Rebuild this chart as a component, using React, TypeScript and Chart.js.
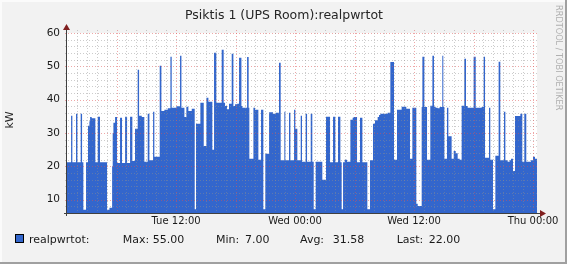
import React, { useEffect, useRef } from "react";
import { Chart, registerables } from "chart.js";

Chart.register(...registerables);

const TITLE = "Psiktis 1 (UPS Room):realpwrtot";
const Y_LABEL = "kW";
const SERIES_NAME = "realpwrtot:";
const WATERMARK = "RRDTOOL / TOBI OETIKER";

// hours since Tue 00:00
const X_MIN = 1.0;
const X_MAX = 48.4;
const Y_MIN = 6;
const Y_MAX = 60;

const X_TICK_HOURS = [12, 24, 36, 48];
const X_TICK_LABELS = ["Tue 12:00", "Wed 00:00", "Wed 12:00", "Thu 00:00"];
const Y_TICKS = [10, 20, 30, 40, 50, 60];

const STAT_LABELS = ["Max:", "Min:", "Avg:", "Last:"];
const STAT_VALUES = ["55.00", "7.00", "31.58", "22.00"];

// step start times (hours since Tue 00:00) and the value held until the next step
const stepHours = [
  1.0, 1.41, 1.54, 1.91, 2.05, 2.38, 2.52, 2.65, 2.92, 3.12, 3.26, 3.33, 3.49, 3.86, 4.1, 4.33,
  5.04, 5.28, 5.55, 5.61, 5.68, 5.85, 6.05, 6.35, 6.55, 6.86, 7.06, 7.36, 7.59, 7.86, 8.13, 8.27,
  8.54, 8.8, 9.14, 9.31, 9.68, 9.81, 10.35, 10.52, 10.82, 11.16, 11.43, 11.56, 12.03, 12.4, 12.54, 12.84,
  13.04, 13.24, 13.58, 13.88, 14.01, 14.45, 14.79, 15.06, 15.26, 15.66, 15.83, 16.06, 16.6, 16.8,
  16.94, 17.14, 17.34, 17.61, 17.78, 17.95, 18.18, 18.35, 18.59, 18.69, 19.16, 19.32, 19.39, 19.8,
  19.96, 20.3, 20.57, 20.8, 21.0, 21.38, 21.78, 22.05, 22.38, 22.55, 22.92, 23.02, 23.39, 23.53,
  23.9, 24.03, 24.23, 24.57, 24.7, 25.07, 25.21, 25.58, 25.74, 25.88, 26.08, 26.75, 27.12, 27.53,
  27.83, 28.06, 28.33, 28.57, 28.7, 28.84, 29.01, 29.24, 29.58, 29.81, 29.91, 30.25, 30.55, 30.79,
  31.29, 31.56, 31.86, 32.06, 32.33, 32.47, 32.6, 33.34, 33.61, 33.98, 34.28, 34.75, 35.22, 35.59,
  35.83, 36.23, 36.37, 36.77, 36.84, 37.04, 37.31, 37.64, 37.85, 38.01, 38.18, 38.38, 38.58, 38.85,
  38.95, 39.06, 39.32, 39.46, 39.79, 40.0, 40.2, 40.4, 40.6, 40.8, 41.07, 41.24, 41.41, 42.01,
  42.22, 42.82, 43.02, 43.16, 43.56, 43.69, 43.96, 44.2, 44.53, 44.7, 45.07, 45.21, 45.44, 45.64,
  45.78, 45.98, 46.18, 46.72, 46.92, 47.12, 47.32, 47.79, 48.0, 48.2, 48.4,
];

const stepValues = [
  21.2, 35.2, 21.2, 35.8, 21.2, 35.8, 21.2, 7.0, 21.2, 32.2, 33.5, 34.8, 34.4, 21.2, 34.9, 21.2,
  7.0, 7.6, 20.0, 30.0, 33.1, 34.8, 21.0, 34.6, 21.0, 34.9, 21.0, 34.9, 21.6, 31.3, 49.0, 35.2,
  34.8, 21.4, 35.8, 21.8, 36.4, 22.9, 50.2, 36.6, 37.0, 37.4, 52.9, 37.6, 38.0, 53.2, 37.6, 34.8,
  37.9, 36.6, 37.3, 7.1, 32.8, 39.1, 26.1, 40.6, 39.4, 25.0, 54.1, 39.1, 55.0, 39.1,
  38.1, 37.1, 38.8, 53.8, 38.1, 38.6, 38.8, 52.6, 38.1, 37.6, 52.8, 37.6, 22.3, 37.6,
  37.0, 22.0, 37.0, 7.1, 23.8, 36.2, 35.8, 36.1, 51.1, 21.8, 36.4, 21.8, 36.1, 21.8,
  37.0, 31.3, 21.8, 35.2, 21.4, 35.8, 21.4, 35.8, 21.4, 7.1, 21.4, 16.0, 34.9, 21.2,
  34.9, 21.2, 34.9, 21.2, 7.1, 21.2, 22.0, 21.4, 34.0, 34.6, 34.8, 21.2, 34.6, 21.2,
  7.1, 21.8, 32.8, 33.8, 34.8, 35.4, 35.8, 36.1, 51.3, 22.0, 37.0, 37.9, 37.3, 22.3,
  37.6, 8.8, 8.1, 37.8, 52.9, 37.8, 22.0, 38.2, 53.2, 37.9, 37.6, 37.4, 37.8, 53.2,
  37.8, 22.3, 37.6, 29.0, 22.3, 24.6, 23.9, 22.3, 22.0, 38.2, 52.3, 38.1, 37.6, 52.9,
  37.6, 37.8, 52.9, 22.6, 37.6, 22.0, 7.1, 23.2, 51.4, 21.8, 36.4, 21.8, 21.4, 21.8,
  22.3, 18.6, 35.1, 35.8, 21.4, 35.8, 21.4, 21.8, 22.9, 22.3, 22.3,
];

const AREA_COLOR = "#3366cc";
const FONT = "'DejaVu Sans', sans-serif";

const rrdPlugin = {
  id: "rrdDecor",
  beforeDraw(chart: any) {
    const { ctx, width, height, chartArea } = chart;
    ctx.save();
    ctx.fillStyle = "#f2f2f2";
    ctx.fillRect(0, 0, width, height);
    // shaded frame
    ctx.fillStyle = "#fbfbfb";
    ctx.fillRect(0, 0, width, 2);
    ctx.fillRect(0, 0, 2, height);
    ctx.fillStyle = "#a0a0a0";
    ctx.fillRect(0, height - 2, width, 2);
    ctx.fillRect(width - 2, 0, 2, height);
    // canvas
    ctx.fillStyle = "#ffffff";
    ctx.fillRect(chartArea.left, chartArea.top, chartArea.right - chartArea.left, chartArea.bottom - chartArea.top);
    ctx.restore();
  },
  afterDatasetsDraw(chart: any) {
    const { ctx, chartArea, scales } = chart;
    const xs = scales.x;
    const ys = scales.y;
    const L = chartArea.left;
    const R = chartArea.right;
    const T = chartArea.top;
    const B = chartArea.bottom;
    ctx.save();
    ctx.lineWidth = 1;
    ctx.setLineDash([1, 2]);
    const minor = "rgba(143,143,143,0.45)";
    const major = "rgba(222,79,79,0.5)";
    // horizontal grid
    for (let v = Y_MIN + 2; v <= Y_MAX; v += 2) {
      const y = Math.round(ys.getPixelForValue(v)) + 0.5;
      const isMajor = v % 10 === 0;
      ctx.strokeStyle = isMajor ? major : minor;
      ctx.beginPath();
      ctx.moveTo(L - 2, y);
      ctx.lineTo(R + 2, y);
      ctx.stroke();
    }
    // vertical grid
    for (let h = Math.ceil(X_MIN + 0.5); h <= X_MAX; h += 1) {
      const x = Math.round(xs.getPixelForValue(h)) + 0.5;
      const isMajor = h % 6 === 0;
      ctx.strokeStyle = isMajor ? major : minor;
      ctx.beginPath();
      ctx.moveTo(x, T - 3);
      ctx.lineTo(x, B + 3);
      ctx.stroke();
    }
    ctx.setLineDash([]);
    // axes
    ctx.strokeStyle = "#404040";
    ctx.beginPath();
    ctx.moveTo(L - 3, Math.round(B) + 0.5);
    ctx.lineTo(R + 4, Math.round(B) + 0.5);
    ctx.moveTo(Math.round(L) - 0.5, B + 3);
    ctx.lineTo(Math.round(L) - 0.5, T - 4);
    ctx.stroke();
    // arrows
    ctx.fillStyle = "#801f1f";
    ctx.beginPath();
    const ax = R + 3;
    const ay = Math.round(B) + 0.5;
    ctx.moveTo(ax, ay - 3.5);
    ctx.lineTo(ax + 6, ay);
    ctx.lineTo(ax, ay + 3.5);
    ctx.closePath();
    ctx.fill();
    const bx = Math.round(L) - 0.5;
    const by = T - 3;
    ctx.beginPath();
    ctx.moveTo(bx - 3.5, by);
    ctx.lineTo(bx, by - 6);
    ctx.lineTo(bx + 3.5, by);
    ctx.closePath();
    ctx.fill();
    ctx.restore();
  },
  afterDraw(chart: any) {
    const { ctx, width, chartArea } = chart;
    ctx.save();
    // title
    ctx.fillStyle = "#262626";
    ctx.font = `12.5px ${FONT}`;
    ctx.textAlign = "center";
    ctx.textBaseline = "alphabetic";
    ctx.fillText(TITLE, 284, 18.5);
    // y axis label
    ctx.save();
    ctx.translate(13, (chartArea.top + chartArea.bottom) / 2 - 3);
    ctx.rotate(-Math.PI / 2);
    ctx.font = `11px ${FONT}`;
    ctx.textAlign = "center";
    ctx.fillText(Y_LABEL, 0, 0);
    ctx.restore();
    // legend
    ctx.fillStyle = AREA_COLOR;
    ctx.fillRect(15.5, 234.5, 8, 8);
    ctx.strokeStyle = "#000";
    ctx.lineWidth = 1;
    ctx.strokeRect(15.5, 234.5, 8, 8);
    ctx.fillStyle = "#1a1a1a";
    ctx.font = `11px ${FONT}`;
    ctx.textAlign = "left";
    ctx.fillText(SERIES_NAME, 29, 243);
    const labelX = [122.7, 216, 300, 396.7];
    const valueX = [152.7, 245, 332.7, 428.7];
    STAT_LABELS.forEach((lab, i) => {
      ctx.fillText(lab, labelX[i], 243);
      ctx.fillText(STAT_VALUES[i], valueX[i], 243);
    });
    // watermark
    ctx.save();
    ctx.translate(width - 9, 5);
    ctx.rotate(Math.PI / 2);
    ctx.fillStyle = "#b0b0b0";
    ctx.font = `8.2px ${FONT}`;
    ctx.textAlign = "left";
    ctx.textBaseline = "middle";
    ctx.fillText(WATERMARK, 0, 0);
    ctx.restore();
    ctx.restore();
  },
};

export default function App() {
  const ref = useRef<HTMLCanvasElement>(null);
  useEffect(() => {
    const canvas = ref.current;
    if (!canvas) return;
    const points = stepHours.map((h, i) => ({ x: h, y: stepValues[i] }));
    const chart = new Chart(canvas, {
      type: "line",
      data: {
        datasets: [
          {
            data: points,
            stepped: "before",
            fill: "start",
            backgroundColor: AREA_COLOR,
            borderColor: AREA_COLOR,
            borderWidth: 0,
            pointRadius: 0,
            tension: 0,
          },
        ],
      },
      options: {
        responsive: false,
        animation: false,
        devicePixelRatio: 1,
        events: [],
        layout: { padding: { top: 33, right: 30, left: 0, bottom: 0 } },
        plugins: {
          legend: { display: false },
          tooltip: { enabled: false },
          title: { display: false },
        },
        scales: {
          x: {
            type: "linear",
            min: X_MIN,
            max: X_MAX,
            grid: { display: false, drawTicks: false },
            border: { display: false },
            afterBuildTicks: (s: any) => {
              s.ticks = X_TICK_HOURS.map((v) => ({ value: v }));
            },
            afterFit: (s: any) => {
              s.height = 51;
            },
            ticks: {
              autoSkip: false,
              maxRotation: 0,
              minRotation: 0,
              padding: 2,
              color: "#1a1a1a",
              font: { family: FONT, size: 10 },
              callback: (v: any) => {
                const i = X_TICK_HOURS.indexOf(Number(v));
                return i >= 0 ? X_TICK_LABELS[i] : "";
              },
            },
          },
          y: {
            type: "linear",
            min: Y_MIN,
            max: Y_MAX,
            grid: { display: false, drawTicks: false },
            border: { display: false },
            afterBuildTicks: (s: any) => {
              s.ticks = Y_TICKS.map((v) => ({ value: v }));
            },
            afterFit: (s: any) => {
              s.width = 67;
            },
            ticks: {
              padding: 7,
              color: "#1a1a1a",
              font: { family: FONT, size: 10.5 },
              callback: (v: any) => String(v),
            },
          },
        },
      },
      plugins: [rrdPlugin],
    });
    return () => chart.destroy();
  }, []);

  return (
    <div style={{ width: 567, height: 264 }}>
      <style>{"body{margin:0;}"}</style>
      <canvas ref={ref} width={567} height={264} style={{ display: "block" }} />
    </div>
  );
}
